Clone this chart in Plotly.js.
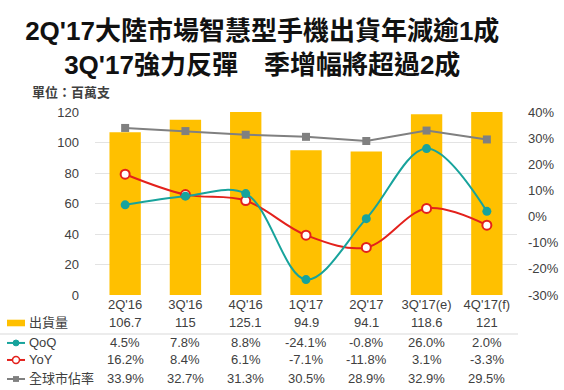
<!DOCTYPE html>
<html><head><meta charset="utf-8">
<script src="https://cdn.plot.ly/plotly-3.0.1.min.js"></script>
<style>html,body{margin:0;padding:0;background:#fff}#c{width:564px;height:390px}</style>
</head><body><div id="c"></div>
<script>
const categories = ["2Q'16","3Q'16","4Q'16","1Q'17","2Q'17","3Q'17(e)","4Q'17(f)"];
const shipments = [106.7,115,125.1,94.9,94.1,118.6,121];
const qoq = [4.5,7.8,8.8,-24.1,-0.8,26.0,2.0];
const yoy = [16.2,8.4,6.1,-7.1,-11.8,3.1,-3.3];
const share = [33.9,32.7,31.3,30.5,28.9,32.9,29.5];
const seriesNames = ["出貨量","QoQ","YoY","全球市佔率"];
const leftTicks = [0,20,40,60,80,100,120];
const rightTicks = [-30,-20,-10,0,10,20,30,40];

const cYellow = '#FFC000', cTeal = '#17A39C', cRed = '#E3211C', cGray = '#808080';
const fontLatin = 'Liberation Sans, Arial, Noto Sans CJK TC, sans-serif';
const fontCJK = 'Liberation Sans, Noto Sans CJK TC, sans-serif';

const traces = [
  {type:'bar', x:categories, y:shipments, name:seriesNames[0], marker:{color:cYellow}, hoverinfo:'skip'},
  {type:'scatter', mode:'lines', x:categories, y:share.map(v=>v/100), yaxis:'y2', name:seriesNames[3],
   line:{color:cGray, width:2}},
  {type:'scatter', mode:'markers', x:categories, y:share.map(v=>v/100), yaxis:'y2', showlegend:false,
   marker:{symbol:'square', size:8, color:cGray}},
  {type:'scatter', mode:'lines+markers', x:categories, y:yoy.map(v=>v/100), yaxis:'y2', name:seriesNames[2],
   line:{color:cRed, width:2, shape:'spline', smoothing:1}, marker:{symbol:'circle', size:9, color:'#fff', line:{color:cRed, width:2}}},
  {type:'scatter', mode:'lines+markers', x:categories, y:qoq.map(v=>v/100), yaxis:'y2', name:seriesNames[1],
   line:{color:cTeal, width:2, shape:'spline', smoothing:1}, marker:{symbol:'circle', size:9, color:cTeal}}
];

const rowY = [-0.153, -0.262, -0.355, -0.459];
const rows = [
  shipments.map(v=>String(v)),
  qoq.map(v=>v.toFixed(1)+'%'),
  yoy.map(v=>v.toFixed(1)+'%'),
  share.map(v=>v.toFixed(1)+'%')
];
const annotations = [];
rows.forEach((vals, r)=>{
  vals.forEach((t,i)=>{
    annotations.push({xref:'x', yref:'paper', x:categories[i], y:rowY[r], text:t, showarrow:false,
      xanchor:'center', yanchor:'middle', font:{family:fontLatin, size:13, color:'#404040'}});
  });
  annotations.push({xref:'paper', yref:'paper', x:-0.161, y:rowY[r], text:seriesNames[r], showarrow:false,
    xanchor:'left', yanchor:'middle', font:{family:fontCJK, size:13, color:'#404040'}});
});
annotations.push({xref:'paper', yref:'paper', x:-0.154, y:1.105, text:'<b>單位：百萬支</b>', showarrow:false,
  xanchor:'left', yanchor:'middle', font:{family:fontCJK, size:13, color:'#404040'}});

const px = p => (p-95)/422;
const shapes = [
  {type:'rect', xref:'paper', yref:'paper', x0:px(7), x1:px(25), y0:rowY[0]-0.018, y1:rowY[0]+0.018, fillcolor:cYellow, line:{width:0}},
  {type:'line', xref:'paper', yref:'paper', x0:px(7), x1:px(25), y0:rowY[1], y1:rowY[1], line:{color:cTeal, width:2}},
  {type:'circle', xref:'paper', yref:'paper', x0:px(13), x1:px(19), y0:rowY[1]-0.016, y1:rowY[1]+0.016, fillcolor:cTeal, line:{color:cTeal, width:1}},
  {type:'line', xref:'paper', yref:'paper', x0:px(7), x1:px(25), y0:rowY[2], y1:rowY[2], line:{color:cRed, width:2}},
  {type:'circle', xref:'paper', yref:'paper', x0:px(12.5), x1:px(19.5), y0:rowY[2]-0.019, y1:rowY[2]+0.019, fillcolor:'#fff', line:{color:cRed, width:1.5}},
  {type:'line', xref:'paper', yref:'paper', x0:px(7), x1:px(25), y0:rowY[3], y1:rowY[3], line:{color:cGray, width:2}},
  {type:'rect', xref:'paper', yref:'paper', x0:px(13), x1:px(19), y0:rowY[3]-0.016, y1:rowY[3]+0.016, fillcolor:cGray, line:{width:0}},
  {type:'line', xref:'paper', yref:'paper', x0:px(0), x1:px(518), y0:(295-334)/183, y1:(295-334)/183, line:{color:'#d9d9d9', width:1}}
];

const layout = {
  width:564, height:390,
  margin:{l:95, r:47, t:112, b:95},
  paper_bgcolor:'#fff', plot_bgcolor:'#fff',
  showlegend:false,
  bargap:0.48,
  title:{text:"2Q'17大陸市場智慧型手機出貨年減逾1成<br>3Q'17強力反彈　季增幅將超過2成",
    font:{family:fontCJK, size:26, color:'#111', weight:'bold'},
    xref:'container', x:0.465, xanchor:'center', yref:'container', y:0.898, yanchor:'top'},
  xaxis:{type:'category', showgrid:false, zeroline:false, showline:false, ticks:'',
    tickfont:{family:fontLatin, size:13, color:'#404040'}},
  yaxis:{range:[0,120], tickvals:leftTicks, showgrid:true, gridcolor:'#e3e3e3', gridwidth:1, zeroline:false,
    tickfont:{family:fontLatin, size:13, color:'#404040'}, ticklabelstandoff:15, fixedrange:true},
  yaxis2:{overlaying:'y', side:'right', range:[-0.30,0.40], tickvals:rightTicks.map(v=>v/100),
    ticktext:rightTicks.map(v=>v+'%'), showgrid:false, zeroline:false,
    tickfont:{family:fontLatin, size:13, color:'#404040'}, ticklabelstandoff:10},
  annotations:annotations,
  shapes:shapes
};
Plotly.newPlot('c', traces, layout, {staticPlot:true, displayModeBar:false});
</script></body></html>
